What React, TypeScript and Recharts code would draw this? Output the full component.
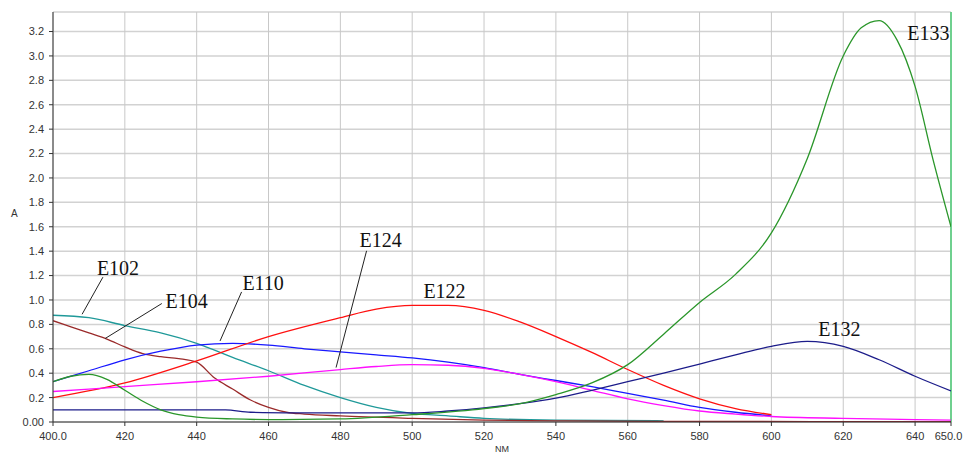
import {
  LineChart,
  Line,
  XAxis,
  YAxis,
  CartesianGrid,
  ReferenceLine,
  ReferenceDot,
} from 'recharts';

// wavelength ticks (nm) and absorbance ticks (A)
const xTicks = [400, 420, 440, 460, 480, 500, 520, 540, 560, 580, 600, 620, 640, 650];
const yTicks = [0, 0.2, 0.4, 0.6, 0.8, 1.0, 1.2, 1.4, 1.6, 1.8, 2.0, 2.2, 2.4, 2.6, 2.8, 3.0, 3.2];

// E102 (teal)
const e102Nm = [400, 410, 420, 430, 440, 450, 460, 470, 480, 490, 500, 510, 520, 540, 570];
const e102A = [0.875, 0.855, 0.79, 0.73, 0.645, 0.53, 0.42, 0.3, 0.2, 0.12, 0.07, 0.05, 0.03, 0.015, 0.01];

// E104 (brown)
const e104Nm = [400, 405, 410, 415, 420, 425, 430, 435, 440, 445, 450, 455, 460, 465, 470, 480, 500, 520, 540, 570, 650];
const e104A = [0.83, 0.78, 0.73, 0.68, 0.615, 0.56, 0.535, 0.52, 0.49, 0.36, 0.27, 0.18, 0.12, 0.08, 0.065, 0.05, 0.03, 0.015, 0.01, 0.005, 0.003];

// E110 (blue)
const e110Nm = [400, 410, 420, 430, 440, 450, 460, 470, 480, 490, 500, 510, 520, 530, 540, 550, 560, 570, 580, 590, 600];
const e110A = [0.33, 0.42, 0.51, 0.58, 0.63, 0.645, 0.63, 0.6, 0.575, 0.55, 0.525, 0.49, 0.445, 0.39, 0.34, 0.29, 0.235, 0.18, 0.12, 0.08, 0.05];

// E122 (red)
const e122Nm = [400, 420, 440, 460, 480, 490, 500, 510, 520, 530, 540, 550, 560, 570, 580, 590, 600];
const e122A = [0.2, 0.32, 0.5, 0.7, 0.855, 0.925, 0.955, 0.955, 0.915, 0.82, 0.7, 0.57, 0.43, 0.3, 0.19, 0.11, 0.06];

// E124 (magenta)
const e124Nm = [400, 420, 440, 460, 480, 490, 500, 510, 520, 530, 540, 550, 560, 570, 580, 590, 600, 620, 640, 650];
const e124A = [0.25, 0.29, 0.33, 0.375, 0.43, 0.455, 0.47, 0.465, 0.44, 0.39, 0.33, 0.26, 0.19, 0.135, 0.09, 0.065, 0.045, 0.03, 0.02, 0.015];

// E132 (navy)
const e132Nm = [400, 440, 448, 455, 470, 480, 500, 510, 520, 530, 540, 550, 560, 570, 580, 590, 600, 610, 620, 630, 640, 650];
const e132A = [0.1, 0.1, 0.1, 0.08, 0.075, 0.074, 0.074, 0.09, 0.115, 0.15, 0.195, 0.26, 0.33, 0.4, 0.475, 0.55, 0.62, 0.66, 0.62, 0.51, 0.375, 0.255];

// E133 (green)
const e133Nm = [400, 405, 410, 415, 420, 425, 430, 435, 440, 450, 460, 480, 500, 520, 530, 540, 550, 560, 570, 580, 590, 600, 610, 620, 625, 630, 635, 640, 645, 650];
const e133A = [0.33, 0.375, 0.39, 0.35, 0.26, 0.17, 0.1, 0.06, 0.04, 0.025, 0.02, 0.025, 0.06, 0.11, 0.15, 0.225, 0.32, 0.47, 0.72, 0.98, 1.21, 1.55, 2.16, 3.0, 3.23, 3.29, 3.13, 2.75, 2.15, 1.6];

const toPoints = (nm: number[], a: number[]) => nm.map((x, i) => ({ nm: x, a: a[i] }));

const series = [
  { name: 'E102', color: '#1f9999', data: toPoints(e102Nm, e102A) },
  { name: 'E104', color: '#9a2a2a', data: toPoints(e104Nm, e104A) },
  { name: 'E110', color: '#1818ff', data: toPoints(e110Nm, e110A) },
  { name: 'E122', color: '#ff1010', data: toPoints(e122Nm, e122A) },
  { name: 'E124', color: '#ff10ff', data: toPoints(e124Nm, e124A) },
  { name: 'E132', color: '#1c1c8a', data: toPoints(e132Nm, e132A) },
  { name: 'E133', color: '#2a962a', data: toPoints(e133Nm, e133A) },
];

// annotation text anchors, in data units
const tags = [
  { name: 'E102', nm: 418.1, a: 1.26 },
  { name: 'E104', nm: 437.2, a: 0.996 },
  { name: 'E110', nm: 458.5, a: 1.14 },
  { name: 'E124', nm: 491.2, a: 1.493 },
  { name: 'E122', nm: 509.0, a: 1.074 },
  { name: 'E132', nm: 618.9, a: 0.763 },
  { name: 'E133', nm: 643.7, a: 3.19 },
];

// leader lines from tag to curve
const leaders = [
  { name: 'E102', x1: 413.9, y1: 1.187, x2: 408.1, y2: 0.883 },
  { name: 'E104', x1: 430.3, y1: 0.971, x2: 414.5, y2: 0.684 },
  { name: 'E110', x1: 452.5, y1: 1.066, x2: 446.5, y2: 0.664 },
  { name: 'E124', x1: 487.3, y1: 1.403, x2: 478.8, y2: 0.446 },
];

const sans = '"Liberation Sans", Arial, sans-serif';
const tickStyle = { fill: '#333', fontSize: 11, fontFamily: sans };

const formatX = (v: number) => (v === 400 || v === 650 ? v.toFixed(1) : String(v));
const formatY = (v: number) => (v === 0 ? '0.00' : v.toFixed(1));

// x tick: nudge the last label so it stays inside the picture
const XTick = (props: any) => {
  const { x, y, payload } = props;
  const dx = payload.value === 650 ? -2.5 : 0;
  return (
    <text x={x + dx} y={y} dy="0.71em" textAnchor="middle" {...tickStyle}>
      {formatX(payload.value)}
    </text>
  );
};

export default function App() {
  return (
    <div style={{ position: 'absolute', left: 0, top: 0, background: '#fff' }}>
      <LineChart
        width={963}
        height={454}
        margin={{ top: 12, right: 12, bottom: 0, left: 0 }}
      >
        <CartesianGrid vertical={false} stroke="#d2d2d2" strokeWidth={1.5} />
        <CartesianGrid horizontal={false} stroke="#c8c8c8" strokeWidth={1} />

        <XAxis
          type="number"
          dataKey="nm"
          domain={[400, 650]}
          ticks={xTicks}
          interval={0}
          tick={<XTick />}
          tickSize={4}
          tickMargin={6}
          height={32}
          stroke="#333"
          allowDataOverflow
          label={{
            value: 'NM',
            position: 'insideBottom',
            offset: 2,
            fill: '#333',
            fontSize: 9,
            fontFamily: sans,
          }}
        />
        <YAxis
          type="number"
          domain={[0, 3.36]}
          ticks={yTicks}
          interval={0}
          tickFormatter={formatY}
          tick={tickStyle}
          tickSize={4}
          tickMargin={5}
          width={53}
          stroke="#333"
          allowDataOverflow
          label={{
            value: 'A',
            position: 'insideLeft',
            offset: 11,
            dy: -4,
            fill: '#333',
            fontSize: 10,
            fontFamily: sans,
          }}
        />

        <ReferenceLine x={650} stroke="#6fd08f" strokeWidth={2} />

        {series.map((s) => (
          <Line
            key={s.name}
            data={s.data}
            dataKey="a"
            type="monotone"
            stroke={s.color}
            strokeWidth={1.3}
            dot={false}
            activeDot={false}
            isAnimationActive={false}
          />
        ))}

        {leaders.map((l) => (
          <ReferenceLine
            key={`leader-${l.name}`}
            segment={[
              { x: l.x1, y: l.y1 },
              { x: l.x2, y: l.y2 },
            ]}
            stroke="#222"
            strokeWidth={1}
          />
        ))}

        {tags.map((t) => (
          <ReferenceDot
            key={`tag-${t.name}`}
            x={t.nm}
            y={t.a}
            r={0}
            fill="none"
            stroke="none"
            label={{
              value: t.name,
              position: 'center',
              fill: '#111',
              fontSize: 20,
              fontFamily: '"Liberation Serif", "Times New Roman", serif',
            }}
          />
        ))}
      </LineChart>
    </div>
  );
}
